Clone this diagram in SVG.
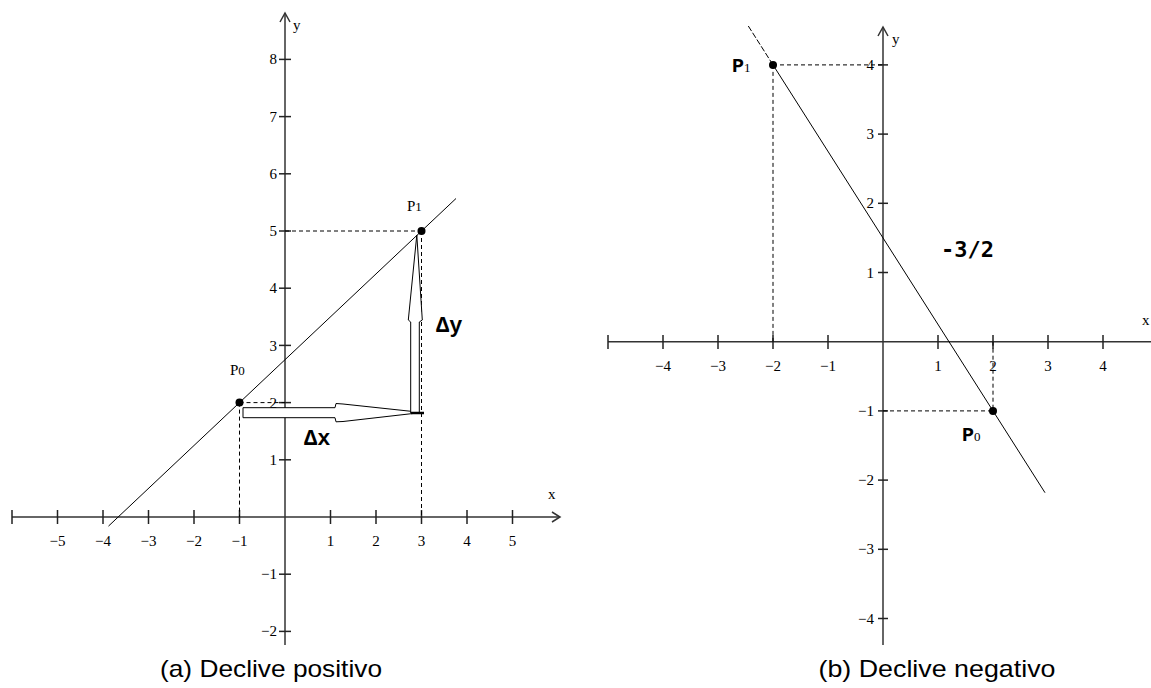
<svg xmlns="http://www.w3.org/2000/svg" width="1151" height="688" viewBox="0 0 1151 688">
<style>
.ax{stroke:#333;stroke-width:1.5;fill:none}
.tk{stroke:#222;stroke-width:1.5}
.ln{stroke:#000;stroke-width:1;fill:none}
.dash{stroke:#000;stroke-width:1;stroke-dasharray:4 3;fill:none}
.num{font-family:"Liberation Serif","Times New Roman",serif;font-size:15px;fill:#000}
.lab{font-family:"Liberation Serif","Times New Roman",serif;font-size:15px;fill:#000}
.big{font-family:"Courier New","Liberation Mono",monospace;font-size:22px;font-weight:bold;fill:#000}
.bigp{font-family:"Courier New","Liberation Mono",monospace;font-size:20px;font-weight:bold;fill:#000}
.sub{font-family:"Liberation Serif","Times New Roman",serif;font-weight:normal;font-size:13px}
.cap{font-family:"Liberation Sans",Arial,sans-serif;font-size:24px;fill:#000}
.hollow{fill:#fff;stroke:#000;stroke-width:1}
</style>
<rect width="1151" height="688" fill="#fff"/>

<!-- ===== Left graph (a) ===== -->
<g id="axes-a">
  <line class="ax" x1="12" y1="517" x2="560" y2="517"/>
  <polyline class="ax" points="552,512 560,517 552,522"/>
  <line class="ax" x1="285" y1="13" x2="285" y2="645"/>
  <polyline class="ax" points="280,22 285,13 290,22"/>
  <g class="tk">
    <line x1="12" y1="510" x2="12" y2="524"/>
    <line x1="57.5" y1="510" x2="57.5" y2="524"/>
    <line x1="103" y1="510" x2="103" y2="524"/>
    <line x1="148.5" y1="510" x2="148.5" y2="524"/>
    <line x1="194" y1="510" x2="194" y2="524"/>
    <line x1="239.5" y1="510" x2="239.5" y2="524"/>
    <line x1="330.5" y1="510" x2="330.5" y2="524"/>
    <line x1="376" y1="510" x2="376" y2="524"/>
    <line x1="421.5" y1="510" x2="421.5" y2="524"/>
    <line x1="467" y1="510" x2="467" y2="524"/>
    <line x1="512.5" y1="510" x2="512.5" y2="524"/>
    <line x1="279" y1="459.8" x2="291" y2="459.8"/>
    <line x1="279" y1="402.6" x2="291" y2="402.6"/>
    <line x1="279" y1="345.4" x2="291" y2="345.4"/>
    <line x1="279" y1="288.2" x2="291" y2="288.2"/>
    <line x1="279" y1="231" x2="291" y2="231"/>
    <line x1="279" y1="173.8" x2="291" y2="173.8"/>
    <line x1="279" y1="116.6" x2="291" y2="116.6"/>
    <line x1="279" y1="59.4" x2="291" y2="59.4"/>
    <line x1="279" y1="574.2" x2="291" y2="574.2"/>
    <line x1="279" y1="631.4" x2="291" y2="631.4"/>
  </g>
  <g class="num" text-anchor="middle">
    <text x="57.5" y="546">−5</text>
    <text x="103" y="546">−4</text>
    <text x="148.5" y="546">−3</text>
    <text x="194" y="546">−2</text>
    <text x="239.5" y="546">−1</text>
    <text x="330.5" y="546">1</text>
    <text x="376" y="546">2</text>
    <text x="421.5" y="546">3</text>
    <text x="467" y="546">4</text>
    <text x="512.5" y="546">5</text>
  </g>
  <g class="num" text-anchor="end">
    <text x="277" y="465">1</text>
    <text x="277" y="408">2</text>
    <text x="277" y="351">3</text>
    <text x="277" y="293">4</text>
    <text x="277" y="236">5</text>
    <text x="277" y="179">6</text>
    <text x="277" y="122">7</text>
    <text x="277" y="64">8</text>
    <text x="277" y="579">−1</text>
    <text x="277" y="636">−2</text>
  </g>
  <text class="lab" x="293" y="30">y</text>
  <text class="lab" x="548" y="499">x</text>
</g>

<g id="connectors-a">
  <line class="ln" x1="108.5" y1="526.1" x2="456" y2="198.5"/>
  <line class="dash" x1="285" y1="231" x2="421.5" y2="231"/>
  <line class="dash" x1="421.5" y1="231" x2="421.5" y2="517"/>
  <line class="dash" x1="239.5" y1="402.6" x2="285" y2="402.6"/>
  <line class="dash" x1="239.5" y1="402.6" x2="239.5" y2="517"/>
</g>

<g id="arrow-dx">
  <polygon class="hollow" points="243,407.7 335,407.7 336,403.5 343,404 413,411.5 413,413.5 343,421.5 336,421.8 335,417.7 243,417.7"/>
  <text class="big" x="304" y="445">Δx</text>
</g>
<g id="arrow-dy">
  <polygon class="hollow" points="410.7,413 410.7,322 408.3,320 416.8,235 422.3,320 419.3,322 419.3,413"/>
  <line x1="411" y1="413" x2="424" y2="413" stroke="#000" stroke-width="2.5"/>
  <text class="big" x="436" y="332">Δy</text>
</g>

<g id="point-p0-a">
  <circle cx="239.5" cy="402.6" r="4" fill="#000"/>
  <text class="lab" x="230" y="375">P<tspan font-size="13">0</tspan></text>
</g>
<g id="point-p1-a">
  <circle cx="421.5" cy="231" r="4" fill="#000"/>
  <text class="lab" x="407" y="211">P<tspan font-size="13">1</tspan></text>
</g>

<!-- ===== Right graph (b) ===== -->
<g id="axes-b">
  <line class="ax" x1="608" y1="341.7" x2="1151" y2="341.7"/>
  <line class="ax" x1="883" y1="27" x2="883" y2="645"/>
  <polyline class="ax" points="878,36 883,27 888,36"/>
  <g class="tk">
    <line x1="608" y1="335" x2="608" y2="349"/>
    <line x1="663" y1="335" x2="663" y2="349"/>
    <line x1="718" y1="335" x2="718" y2="349"/>
    <line x1="773" y1="335" x2="773" y2="349"/>
    <line x1="828" y1="335" x2="828" y2="349"/>
    <line x1="938" y1="335" x2="938" y2="349"/>
    <line x1="993" y1="335" x2="993" y2="349"/>
    <line x1="1048" y1="335" x2="1048" y2="349"/>
    <line x1="1103" y1="335" x2="1103" y2="349"/>
    <line x1="878" y1="64.9" x2="888" y2="64.9"/>
    <line x1="878" y1="134.1" x2="888" y2="134.1"/>
    <line x1="878" y1="203.3" x2="888" y2="203.3"/>
    <line x1="878" y1="272.5" x2="888" y2="272.5"/>
    <line x1="878" y1="410.9" x2="888" y2="410.9"/>
    <line x1="878" y1="480.1" x2="888" y2="480.1"/>
    <line x1="878" y1="549.3" x2="888" y2="549.3"/>
    <line x1="878" y1="618.5" x2="888" y2="618.5"/>
  </g>
  <g class="num" text-anchor="middle">
    <text x="663" y="371">−4</text>
    <text x="718" y="371">−3</text>
    <text x="773" y="371">−2</text>
    <text x="828" y="371">−1</text>
    <text x="938" y="371">1</text>
    <text x="993" y="371">2</text>
    <text x="1048" y="371">3</text>
    <text x="1103" y="371">4</text>
  </g>
  <g class="num" text-anchor="end">
    <text x="874" y="70">4</text>
    <text x="874" y="139">3</text>
    <text x="874" y="208">2</text>
    <text x="874" y="278">1</text>
    <text x="874" y="416">−1</text>
    <text x="874" y="485">−2</text>
    <text x="874" y="554">−3</text>
    <text x="874" y="624">−4</text>
  </g>
  <text class="lab" x="892" y="44">y</text>
  <text class="lab" x="1142" y="325">x</text>
</g>

<g id="connectors-b">
  <line class="ln" x1="748.3" y1="26" x2="773" y2="64.9" stroke-dasharray="6 2"/>
  <line class="ln" x1="773" y1="64.9" x2="1045" y2="492.7"/>
  <line class="dash" x1="773" y1="64.9" x2="883" y2="64.9"/>
  <line class="dash" x1="773" y1="64.9" x2="773" y2="341.7"/>
  <line class="dash" x1="883" y1="410.9" x2="993" y2="410.9"/>
  <line class="dash" x1="993" y1="341.7" x2="993" y2="410.9"/>
</g>

<g id="point-p1-b">
  <circle cx="773" cy="64.9" r="4" fill="#000"/>
  <text class="bigp" x="732" y="72">P<tspan class="sub">1</tspan></text>
</g>
<g id="point-p0-b">
  <circle cx="993" cy="410.9" r="4" fill="#000"/>
  <text class="bigp" x="962" y="441">P<tspan class="sub">0</tspan></text>
</g>
<g id="slope-label">
  <text x="941" y="257" font-family="DejaVu Sans Mono,monospace" font-size="22" font-weight="bold">-3/2</text>
</g>

<g id="captions">
  <text class="cap" x="271" y="677" text-anchor="middle" textLength="222" lengthAdjust="spacingAndGlyphs">(a) Declive positivo</text>
  <text class="cap" x="937" y="677" text-anchor="middle" textLength="237" lengthAdjust="spacingAndGlyphs">(b) Declive negativo</text>
</g>
</svg>
